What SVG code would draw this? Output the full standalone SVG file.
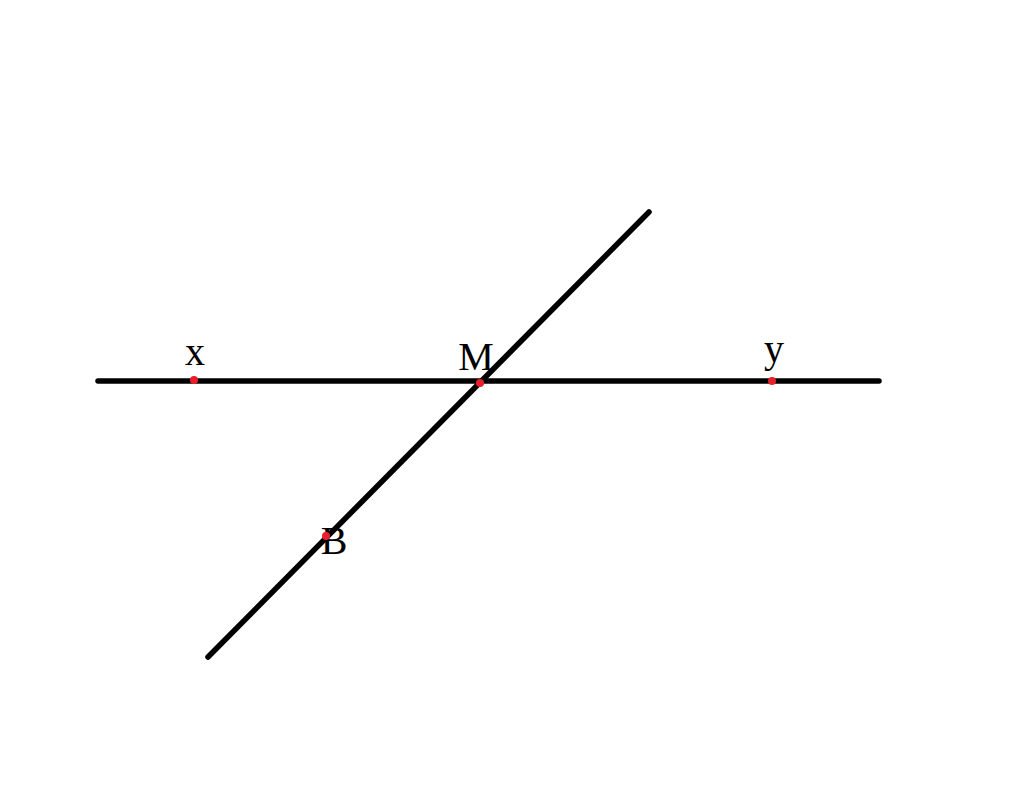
<svg xmlns="http://www.w3.org/2000/svg" width="1024" height="795" viewBox="0 0 1024 795">
<style>
.ln{stroke:#000;stroke-width:5.5;stroke-linecap:round;fill:none}
.pt{fill:#e8202a}
.lb{font-family:"Liberation Serif","Times New Roman",serif;font-size:40px;fill:#000}
</style>
<rect width="1024" height="795" fill="#fff"/>
<g id="connectors">
<line class="ln" x1="98" y1="381" x2="879" y2="381"/>
<line class="ln" x1="649" y1="212" x2="208" y2="657"/>
</g>
<g id="x"><text class="lb" x="195" y="365" text-anchor="middle">x</text><circle class="pt" cx="194" cy="380" r="4"/></g>
<g id="M"><text class="lb" x="476" y="370" text-anchor="middle">M</text><circle class="pt" cx="480" cy="383" r="4"/></g>
<g id="y"><text class="lb" x="774" y="362" text-anchor="middle">y</text><circle class="pt" cx="772" cy="381" r="4"/></g>
<g id="B"><text class="lb" x="334" y="554" text-anchor="middle">B</text><circle class="pt" cx="326" cy="536" r="4"/></g>
</svg>
